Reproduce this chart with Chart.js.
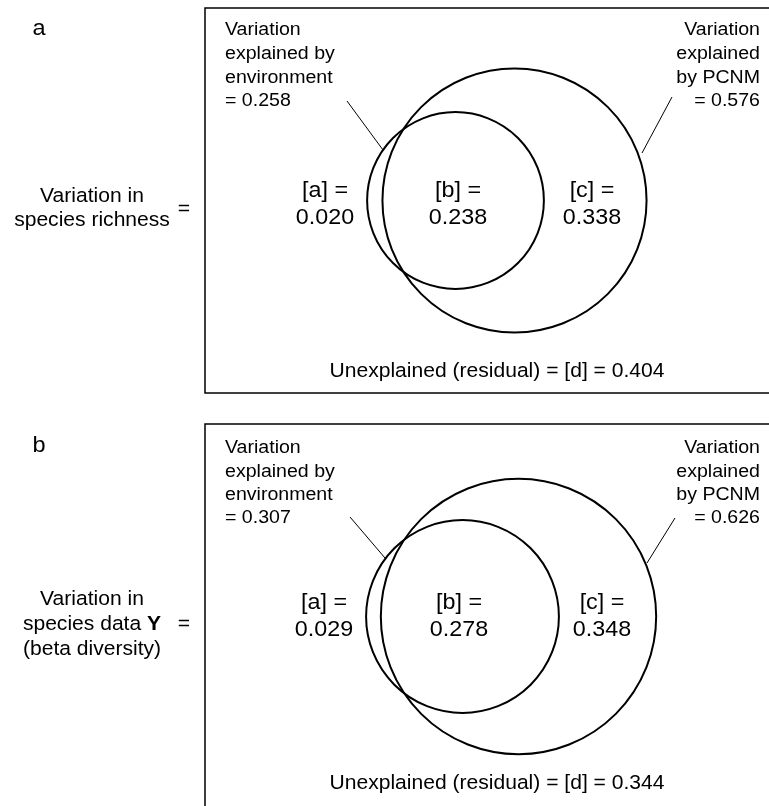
<!DOCTYPE html>
<html>
<head>
<meta charset="utf-8">
<title>Variation partitioning</title>
<script src="https://cdn.jsdelivr.net/npm/chart.js@4.4.1/dist/chart.umd.min.js"></script>
<style>
  html, body { margin: 0; padding: 0; background: #fff; }
  canvas { display: block; }
</style>
</head>
<body>
<canvas id="venn" width="769" height="806"></canvas>
<script>
// values (a = species richness, b = beta diversity)
const panelNames = ['a', 'b'];
const envExplained = [0.258, 0.307];
const pcnmExplained = [0.576, 0.626];
const fractionA = [0.020, 0.029];
const fractionB = [0.238, 0.278];
const fractionC = [0.338, 0.348];
const fractionD = [0.404, 0.344];
const responseLabels = [
  ['Variation in', 'species richness'],
  ['Variation in', 'species data Y', '(beta diversity)']
];

// layout (pixel units, the axes run 1:1 with the canvas)
const W = 769, H = 806;
const FONT = "'Liberation Sans', Arial, Helvetica, sans-serif";
const SX = 1.07; // the source type is a touch wide
const SMALL = 18.3, MID = 19.7, BIG = 21.8;
const R_PER_SQRT = 174; // circle radius per sqrt(fraction of variation)
const layout = [
  { top: 8, bottom: 393, envX: 455.5, pcnmX: 514.5, cy: 200.5,
    textY: [30, 54, 78, 101], bigY: [191, 218], fracX: [325, 458, 592], dY: 372,
    envLead: [[347, 101], [383, 150]], pcnmLead: [[672, 97], [642, 153]],
    respY: [197, 221], eqY: 210, letterY: 29 },
  { top: 424, bottom: 830, envX: 462.5, pcnmX: 518.5, cy: 616.5,
    textY: [448, 472, 495, 518], bigY: [603, 630], fracX: [324, 459, 602], dY: 784,
    envLead: [[350, 517], [385, 558]], pcnmLead: [[675, 518], [647, 563]],
    respY: [600, 625, 650], eqY: 625, letterY: 446 }
];
const boxLeft = 205;

function fmt(v) { return v.toFixed(3); }

let datasets = [];
panelNames.forEach(function (p, i) {
  let L = layout[i];
  datasets.push({
    type: 'bubble',
    label: 'environment ' + p,
    data: [{ x: L.envX, y: L.cy, r: R_PER_SQRT * Math.sqrt(envExplained[i]) }],
    backgroundColor: 'rgba(0,0,0,0)',
    borderColor: '#000',
    borderWidth: 2,
    clip: false
  });
  datasets.push({
    type: 'bubble',
    label: 'PCNM ' + p,
    data: [{ x: L.pcnmX, y: L.cy, r: R_PER_SQRT * Math.sqrt(pcnmExplained[i]) }],
    backgroundColor: 'rgba(0,0,0,0)',
    borderColor: '#000',
    borderWidth: 2,
    clip: false
  });
  [L.envLead, L.pcnmLead].forEach(function (seg) {
    datasets.push({
      type: 'line',
      label: 'leader',
      data: seg.map(function (pt) { return { x: pt[0], y: pt[1] }; }),
      borderColor: '#000',
      borderWidth: 1,
      pointRadius: 0,
      fill: false
    });
  });
});

function txt(ctx, s, x, y, size, align, weight) {
  ctx.save();
  ctx.font = (weight || 'normal') + ' ' + size + 'px ' + FONT;
  ctx.textAlign = align || 'center';
  ctx.textBaseline = 'middle';
  ctx.fillStyle = '#000';
  ctx.translate(x, y);
  ctx.scale(SX, 1);
  ctx.fillText(s, 0, 0);
  ctx.restore();
}

const figurePlugin = {
  id: 'figure',
  beforeDatasetsDraw: function (chart) {
    let ctx = chart.ctx, xs = chart.scales.x, ys = chart.scales.y;
    ctx.save();
    ctx.strokeStyle = '#000';
    ctx.lineWidth = 1.5;
    layout.forEach(function (L) {
      let x0 = xs.getPixelForValue(boxLeft), x1 = xs.getPixelForValue(W + 20);
      let y0 = ys.getPixelForValue(L.top), y1 = ys.getPixelForValue(L.bottom);
      ctx.strokeRect(x0, y0, x1 - x0, y1 - y0);
    });
    ctx.restore();
  },
  afterDatasetsDraw: function (chart) {
    let ctx = chart.ctx, xs = chart.scales.x, ys = chart.scales.y;
    function X(v) { return xs.getPixelForValue(v); }
    function Y(v) { return ys.getPixelForValue(v); }
    panelNames.forEach(function (p, i) {
      let L = layout[i];
      txt(ctx, p, X(39), Y(L.letterY), 22, 'center');

      // response variable on the left
      let resp = responseLabels[i];
      resp.forEach(function (line, k) {
        if (line.indexOf(' Y') > -1) {
          let head = line.replace(/Y$/, '');
          ctx.save();
          ctx.font = MID + 'px ' + FONT;
          let w1 = ctx.measureText(head).width * SX;
          ctx.font = 'bold ' + MID + 'px ' + FONT;
          let w2 = ctx.measureText('Y').width * SX;
          ctx.restore();
          let start = X(92) - (w1 + w2) / 2;
          txt(ctx, head, start, Y(L.respY[k]), MID, 'left');
          txt(ctx, 'Y', start + w1, Y(L.respY[k]), MID, 'left', 'bold');
        } else {
          txt(ctx, line, X(92), Y(L.respY[k]), MID, 'center');
        }
      });
      txt(ctx, '=', X(184), Y(L.eqY), MID, 'center');

      // circle captions
      let envLines = ['Variation', 'explained by', 'environment', '= ' + fmt(envExplained[i])];
      let pcnmLines = ['Variation', 'explained', 'by PCNM', '= ' + fmt(pcnmExplained[i])];
      envLines.forEach(function (s, k) { txt(ctx, s, X(225), Y(L.textY[k]), SMALL, 'left'); });
      pcnmLines.forEach(function (s, k) { txt(ctx, s, X(760), Y(L.textY[k]), SMALL, 'right'); });

      // fractions
      let fr = [['[a] =', fractionA[i]], ['[b] =', fractionB[i]], ['[c] =', fractionC[i]]];
      fr.forEach(function (f, k) {
        txt(ctx, f[0], X(L.fracX[k]), Y(L.bigY[0]), BIG, 'center');
        txt(ctx, fmt(f[1]), X(L.fracX[k]), Y(L.bigY[1]), BIG, 'center');
      });
      txt(ctx, 'Unexplained (residual) = [d] = ' + fmt(fractionD[i]), X(497), Y(L.dY), MID, 'center');
    });
  }
};

new Chart(document.getElementById('venn'), {
  type: 'bubble',
  data: { datasets: datasets },
  options: {
    responsive: false,
    animation: false,
    events: [],
    layout: { padding: 0, autoPadding: false },
    plugins: { legend: { display: false }, tooltip: { enabled: false } },
    scales: {
      x: { type: 'linear', min: 0, max: W, display: false },
      y: { type: 'linear', min: 0, max: H, reverse: true, display: false }
    }
  },
  plugins: [figurePlugin]
});
</script>
</body>
</html>
